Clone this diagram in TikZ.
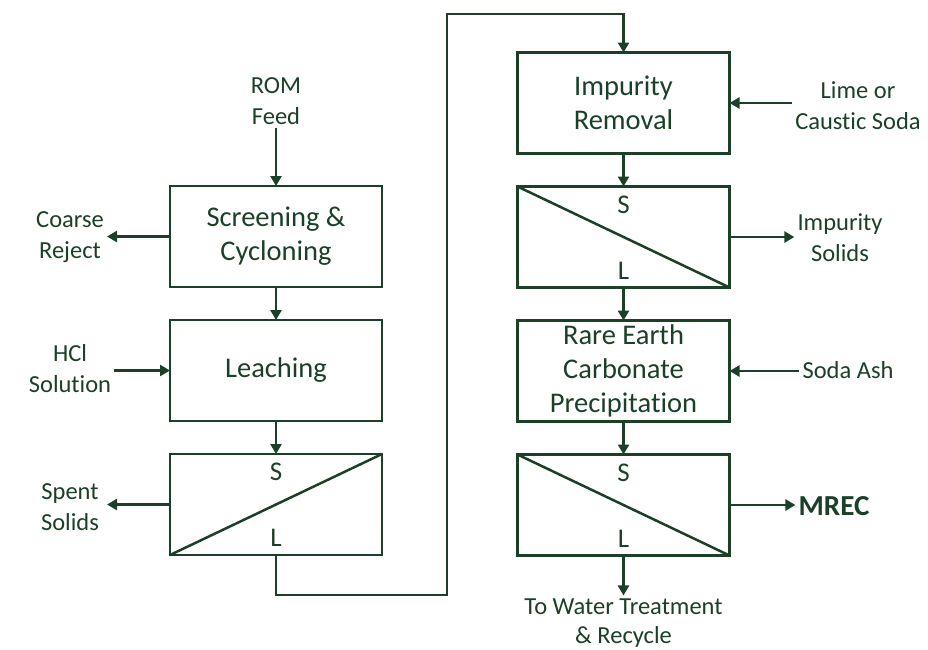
\documentclass[tikz,border=0pt]{standalone}
\usepackage{fontspec}
\setmainfont{Carlito}[Ligatures={NoCommon,NoRare}]
\usetikzlibrary{arrows.meta}
\usetikzlibrary{positioning}
\definecolor{flowgreen}{HTML}{1A4027}
\tikzset{>={Triangle[length=10pt,width=11pt]}}
\tikzset{
    process/.style={draw=flowgreen, line width=2.5pt, minimum width=212pt, minimum height=101pt,
        outer sep=0pt, align=center, text=flowgreen, font=\fontsize{28.5}{34}\selectfont},
    phase/.style={text=flowgreen, inner sep=0pt, font=\fontsize{27}{30}\selectfont},
    stream/.style={align=center, text=flowgreen, inner sep=3pt, font=\fontsize{24.5}{31}\selectfont},
    flow/.style={->, draw=flowgreen, line width=2.5pt},
}

\begin{document}
\begin{tikzpicture}[x=1pt,y=-1pt] % rare earth flowsheet
	\useasboundingbox (0,0) rectangle (928,649);
	% left column
	\node[process] (screen) at (276,236.5) {Screening \&\\Cycloning};
	\node[process, below=33pt of screen] (leach) {Leaching};
	\node[process, below=33pt of leach] (solidsep) {};
	\draw[draw=flowgreen, line width=2.5pt] (solidsep.south west) -- (solidsep.north east);
	\node[phase] (solidsepS) at ([yshift=-18pt]solidsep.north) {S};
	\node[phase] (solidsepL) at ([yshift=17pt]solidsep.south) {L};
	% right column
	\node[process] (impurity) at (623.5,103) {Impurity\\Removal};
	\node[process, below=33pt of impurity] (impsep) {};
	\draw[draw=flowgreen, line width=2.5pt] (impsep.north west) -- (impsep.south east);
	\node[phase] (impsepS) at ([yshift=-18pt]impsep.north) {S};
	\node[phase] (impsepL) at ([yshift=17pt]impsep.south) {L};
	\node[process, below=33pt of impsep] (carbonate) {Rare Earth\\Carbonate\\Precipitation};
	\node[process, below=33pt of carbonate] (mrecsep) {};
	\draw[draw=flowgreen, line width=2.5pt] (mrecsep.north west) -- (mrecsep.south east);
	\node[phase] (mrecsepS) at ([yshift=-18pt]mrecsep.north) {S};
	\node[phase] (mrecsepL) at ([yshift=17pt]mrecsep.south) {L};
	% streams in and out
	\node[stream] (rom) at (276,101) {ROM\\Feed};
	\node[stream] (coarse) at (70,237) {Coarse\\Reject};
	\node[stream] (hcl) at (70,369) {HCl\\Solution};
	\node[stream] (spent) at (70,507) {Spent\\Solids};
	\node[stream] (lime) at (858,106) {Lime or\\Caustic Soda};
	\node[stream] (impsolids) at (840,238) {Impurity\\Solids};
	\node[stream] (sodaash) at (848,370) {Soda Ash};
	\node[stream, font=\fontsize{29}{31}\selectfont\bfseries] (mrec) at (834,506) {MREC};
	\node[stream, font=\fontsize{24.5}{29}\selectfont] (water) at (623.5,623) {To Water Treatment\\\& Recycle};
	\coordinate (loopdown) at (447,595);
	\coordinate (looptop) at (623.5,14);
	\draw[flow] (rom) -- (screen);
	\draw[flow] (screen) -- (leach);
	\draw[flow] (leach) -- (solidsep);
	\draw[flow] (screen.west) -- (coarse.east |- screen.west);
	\draw[flow] (hcl.east |- leach.west) -- (leach.west);
	\draw[flow] (solidsep.west) -- (coarse.east |- solidsep.west);
	\draw[flow] (solidsep.south) |- (loopdown) |- (looptop) -- (impurity.north);
	\draw[flow] (lime.west |- impurity.east) -- (impurity.east);
	\draw[flow] (impurity) -- (impsep);
	\draw[flow] (impsep.east) -- (impsep.east -| impsolids.west);
	\draw[flow] (impsep) -- (carbonate);
	\draw[flow] (sodaash.west |- carbonate.east) -- (carbonate.east);
	\draw[flow] (carbonate) -- (mrecsep);
	\draw[flow] (mrecsep.east) -- (mrecsep.east -| mrec.west);
	\draw[flow] (mrecsep.south) -- (water.north);
\end{tikzpicture}
\end{document}
